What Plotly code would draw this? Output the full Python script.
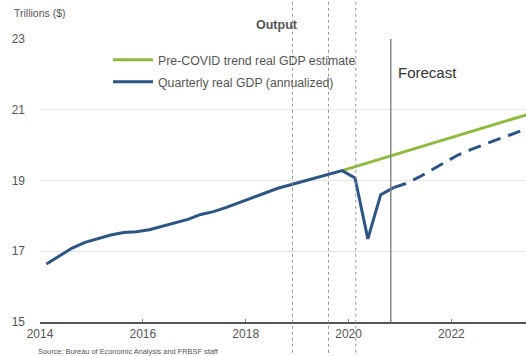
import plotly.graph_objects as go

# Quarterly real GDP (annualized), trillions $, at mid-quarter positions
gdp_x = [2014.125, 2014.375, 2014.625, 2014.875,
         2015.125, 2015.375, 2015.625, 2015.875,
         2016.125, 2016.375, 2016.625, 2016.875,
         2017.125, 2017.375, 2017.625, 2017.875,
         2018.125, 2018.375, 2018.625, 2018.875,
         2019.125, 2019.375, 2019.625, 2019.875,
         2020.125, 2020.375, 2020.625, 2020.875]
gdp_y = [16.64, 16.87, 17.09, 17.25,
         17.36, 17.46, 17.53, 17.55,
         17.61, 17.70, 17.79, 17.90,
         18.04, 18.12, 18.24, 18.37,
         18.51, 18.65, 18.78, 18.88,
         18.98, 19.06, 19.16, 19.28,
         19.07, 17.35, 18.60, 18.80]

# Forecast (dashed)
fc_x = [2020.875, 2021.125, 2021.375, 2021.625, 2021.875, 2022.125,
        2022.375, 2022.625, 2022.875, 2023.125, 2023.375, 2023.625]
fc_y = [18.80, 18.92, 19.10, 19.30, 19.52, 19.72,
        19.87, 20.02, 20.15, 20.28, 20.42, 20.55]

# Pre-COVID trend
trend_x = [2019.875, 2020.875, 2021.875, 2022.875, 2023.625]
trend_y = [19.28, 19.72, 20.16, 20.60, 20.93]

output_lines = [2018.91, 2019.61, 2020.14]
forecast_line = 2020.82

x_ticks = [2014, 2016, 2018, 2020, 2022]
y_ticks = [15, 17, 19, 21, 23]

GREEN = "#8dba3f"
BLUE = "#2c5585"
FONT = "Liberation Sans, Arial, sans-serif"

fig = go.Figure()
fig.add_trace(go.Scatter(x=trend_x, y=trend_y, mode="lines",
                         line=dict(color=GREEN, width=3),
                         name="Pre-COVID trend real GDP estimate",
                         legendgroup="a"))
fig.add_trace(go.Scatter(x=gdp_x, y=gdp_y, mode="lines",
                         line=dict(color=BLUE, width=3),
                         name="Quarterly real GDP (annualized)",
                         legendgroup="b"))
fig.add_trace(go.Scatter(x=fc_x, y=fc_y, mode="lines",
                         line=dict(color=BLUE, width=3, dash="13px,8px"),
                         showlegend=False))

shapes = []
for xv in output_lines:
    shapes.append(dict(type="line", xref="x", yref="paper", x0=xv, x1=xv,
                       y0=-0.13, y1=1.14,
                       line=dict(color="#999999", width=1, dash="3px,3px")))
shapes.append(dict(type="line", xref="x", yref="y", x0=forecast_line, x1=forecast_line,
                   y0=15, y1=23.05, line=dict(color="#888888", width=1.5)))
fig.update_layout(shapes=shapes)

fig.add_annotation(x=0, xref="paper", xanchor="left", xshift=-28,
                   y=1.092, yref="paper", yanchor="middle",
                   text="Trillions ($)", showarrow=False,
                   font=dict(family=FONT, size=10.5, color="#555555"))
fig.add_annotation(x=2018.6, xref="x", y=1.05, yref="paper", yanchor="middle",
                   text="<b>Output</b>", showarrow=False,
                   font=dict(family=FONT, size=12.5, color="#555555"))
fig.add_annotation(x=2020.93, xref="x", xanchor="left", y=22.04, yref="y",
                   text="Forecast", showarrow=False,
                   font=dict(family=FONT, size=15, color="#333333"))
fig.add_annotation(x=0, xref="paper", xanchor="left", xshift=-4, y=-0.106, yref="paper",
                   yanchor="middle", text="Source: Bureau of Economic Analysis and FRBSF staff",
                   showarrow=False, font=dict(family=FONT, size=7.4, color="#555555"))

fig.update_layout(
    width=526, height=356,
    margin=dict(l=40, r=0, t=39, b=34),
    paper_bgcolor="white", plot_bgcolor="white",
    font=dict(family=FONT, size=12, color="#555555"),
    legend=dict(x=0.14, y=0.978, xanchor="left", yanchor="top",
                bgcolor="rgba(255,255,255,0)", tracegroupgap=3,
                traceorder="grouped", itemwidth=40,
                font=dict(family=FONT, size=12.3, color="#555555")),
    xaxis=dict(range=[2014, 2023.45], tickvals=x_ticks, showgrid=False,
               showline=True, linecolor="#555555", linewidth=2,
               ticks="inside", ticklen=3, tickcolor="#888888",
               tickfont=dict(family=FONT, size=12, color="#555555"),
               zeroline=False),
    yaxis=dict(range=[15, 23], tickvals=y_ticks, showgrid=True,
               gridcolor="#e6e6e6", gridwidth=1, zeroline=False,
               showline=False, ticklabelstandoff=14,
               tickfont=dict(family=FONT, size=12, color="#555555")),
)

fig.write_html("out.html")
